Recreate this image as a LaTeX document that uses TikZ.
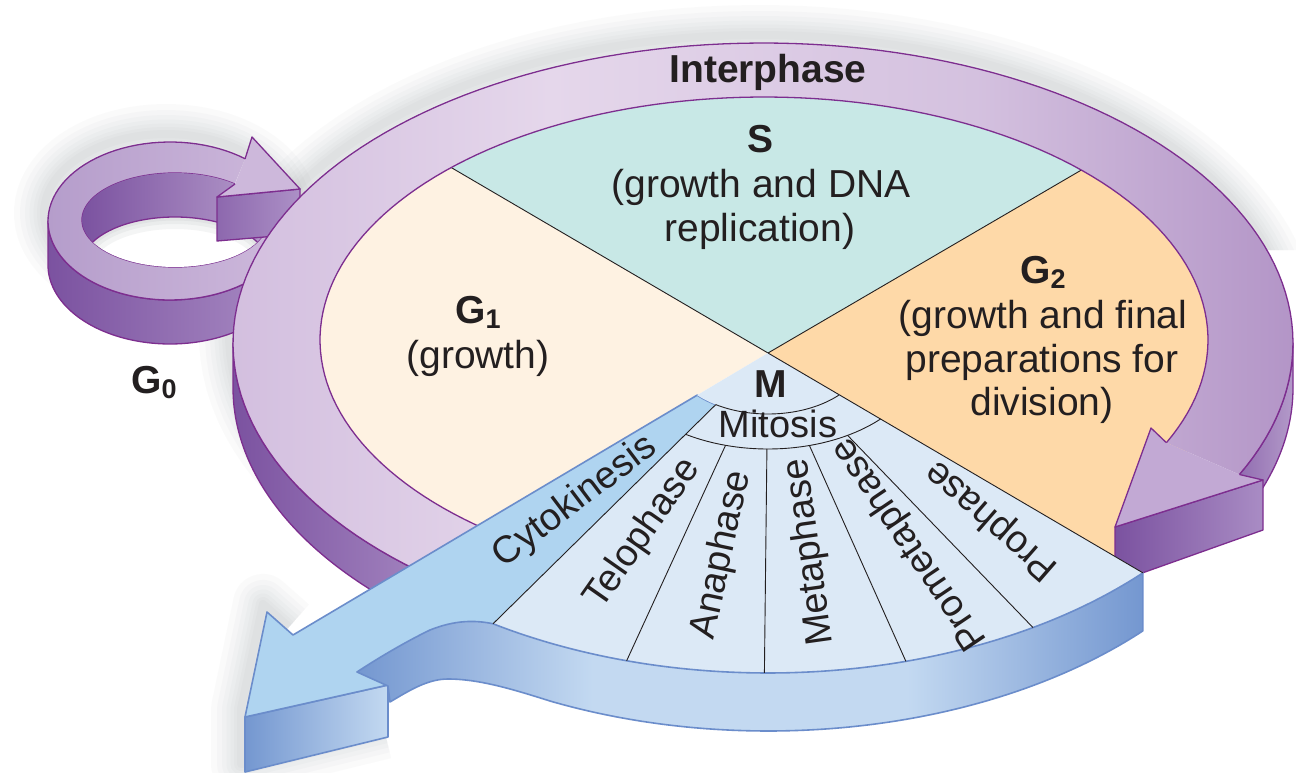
\documentclass[tikz,border=0pt]{standalone}
\usepackage{fontspec}
\setmainfont{Liberation Sans}
\definecolor{ringA}{HTML}{D3BFDF}
\definecolor{ringB}{HTML}{E5D7EB}
\definecolor{ringC}{HTML}{D4C1DF}
\definecolor{ringD}{HTML}{B395C7}
\definecolor{pDark}{HTML}{7B52A0}
\definecolor{pWall}{HTML}{A98CC4}
\definecolor{pWallR1}{HTML}{8F6AAF}
\definecolor{pWallR2}{HTML}{B39AC9}
\definecolor{pEdge}{HTML}{7D2E8F}
\definecolor{aTop}{HTML}{C2A9D4}
\definecolor{gA}{HTML}{B59DCB}
\definecolor{gB}{HTML}{CDB8DB}
\definecolor{gWallR}{HTML}{B59BCB}
\definecolor{gSideL}{HTML}{8D68AE}
\definecolor{gSideR}{HTML}{AC90C6}
\definecolor{cGone}{HTML}{FEF2E2}
\definecolor{cS}{HTML}{C8E8E6}
\definecolor{cGtwo}{HTML}{FED9A8}
\definecolor{cM}{HTML}{DCE9F6}
\definecolor{cCyto}{HTML}{AFD4F0}
\definecolor{bEdge}{HTML}{6B8DCB}
\definecolor{bDark}{HTML}{7497D0}
\definecolor{bLight}{HTML}{C3D9F1}
\definecolor{txt}{HTML}{231F20}
\definecolor{shadowc}{HTML}{6E767C}
\pgfdeclarehorizontalshading{ringtop}{100bp}{color(0bp)=(ringA); color(25bp)=(ringA); color(40bp)=(ringB); color(60bp)=(ringC); color(75bp)=(ringD); color(100bp)=(ringD)}
\pgfdeclarehorizontalshading{bandshade}{100bp}{color(0bp)=(bDark); color(25bp)=(bDark); color(40bp)=(bLight); color(60bp)=(bLight); color(75bp)=(bDark); color(100bp)=(bDark)}
% ellipse arcs (pixel coordinates, y downwards)
\newcommand{\ccRO}[3]{#1 plot[domain=#2:#3,samples=140,variable=\t]({763+530*cos(\t)},{343+300*sin(\t)})}
\newcommand{\ccROs}[3]{#1 plot[domain=#2:#3,samples=60,variable=\t]({763+530*cos(\t)},{388+300*sin(\t)})}
\newcommand{\ccRI}[3]{#1 plot[domain=#2:#3,samples=140,variable=\t]({764+444*cos(\t)},{340+243*sin(\t)})}
\newcommand{\ccGO}[3]{#1 plot[domain=#2:#3,samples=80,variable=\t]({170+122*cos(\t)},{221+79*sin(\t)})}
\newcommand{\ccGOs}[3]{#1 plot[domain=#2:#3,samples=80,variable=\t]({170+122*cos(\t)},{265+79*sin(\t)})}
\newcommand{\ccGI}[3]{#1 plot[domain=#2:#3,samples=80,variable=\t]({175+93*cos(\t)},{220+47*sin(\t)})}
\newcommand{\ccGIs}[3]{#1 plot[domain=#2:#3,samples=80,variable=\t]({175+93*cos(\t)},{264+47*sin(\t)})}
\newcommand{\ccEM}[3]{#1 plot[domain=#2:#3,samples=100,variable=\t]({768+516*cos(\t)},{353+320*sin(\t)})}
\newcommand{\ccEMs}[3]{#1 plot[domain=#2:#3,samples=100,variable=\t]({768+516*cos(\t)},{411+320*sin(\t)})}
\newcommand{\ccEA}[3]{#1 plot[domain=#2:#3,samples=40,variable=\t]({768+98*cos(\t)},{353+61*sin(\t)})}
\newcommand{\ccEB}[3]{#1 plot[domain=#2:#3,samples=40,variable=\t]({768+155*cos(\t)},{353+96*sin(\t)})}
\begin{document}
\begin{tikzpicture}[x=1pt,y=-1pt,
  pedge/.style={draw=pEdge, line width=1.3pt, line join=round},
  bedge/.style={draw=bEdge, line width=1.6pt, line join=round},
  divline/.style={draw=txt, line width=0.9pt},
  lbl/.style={font=\fontsize{39}{44}\selectfont, text=txt, inner sep=0pt},
  lblb/.style={font=\fontsize{39}{44}\selectfont\bfseries, text=txt, inner sep=0pt},
  plbl/.style={font=\fontsize{38}{44}\selectfont, text=txt, inner sep=0pt}]
\useasboundingbox (0,0) rectangle (1296,773);
\fill[white] (0,0) rectangle (1296,773);

% ---------- soft shadow ----------
\begin{scope}
\clip (0,0)--(1296,0)--(1296,250)--(1000,250)--(430,560)--(430,773)--(0,773)--cycle;
\begin{scope}[shift={(-4,-8)}]
\foreach \w in {60,48,38,29,21,14,8}{
  \draw[shadowc, opacity=0.03, line width=\w pt] \ccRO{}{0}{360} -- cycle;
  \draw[shadowc, opacity=0.03, line width=\w pt] \ccGO{}{0}{360} -- cycle;
  \draw[shadowc, opacity=0.03, line width=\w pt, line join=round] (293,635)--(267,612)--(245,717)--(245,772)--(388,737);
}
\end{scope}
\end{scope}

% ---------- G0 loop ----------
\shade[left color=pDark, right color=pWall] \ccGO{}{180}{0} \ccGOs{--}{0}{180} -- cycle;
\draw[pedge] \ccGO{}{180}{0} \ccGOs{--}{0}{180} -- cycle;
\shade[left color=gA, right color=gB] \ccGO{}{-52}{-335} \ccGI{--}{-345}{-50} -- cycle;
\draw[pedge] \ccGO{}{-52}{-335};
\draw[pedge] \ccGI{}{-345}{-50};
\begin{scope}
  \clip \ccGI{}{0}{360} -- cycle;
  \shade[left color=pDark, right color=gWallR] \ccGI{}{0}{360} -- cycle;
  \fill[white] \ccGIs{}{0}{360} -- cycle;
  \clip \ccGIs{}{0}{360} -- cycle;
  \foreach \w in {24,14,7}{\draw[shadowc, opacity=0.07, line width=\w pt] \ccGIs{}{180}{360};}
\end{scope}
\draw[pedge] \ccGIs{}{208}{332};
\shade[left color=gSideL, right color=gSideR] (217,197) -- (300,189) -- (300,234) -- (217,241) -- cycle;
\draw[pedge] (217,197) -- (300,189) -- (300,234) -- (217,241) -- cycle;
\fill[gB] (245,159) -- (252,137) -- (300,189) -- (217,197) -- (235,184) -- cycle;
\draw[pedge] (245,159) -- (252,137) -- (300,189) -- (217,197) -- (235,184);

% ---------- pie: G1, S, G2 ----------
\begin{scope}
  \clip \ccRI{}{0}{360} -- cycle;
  \fill[cGone] (768,353) -- (136,-17) -- (-100,-100) -- (-100,900) -- (22,795) -- cycle;
  \fill[cS] (768,353) -- (136,-17) -- (768,-300) -- (1388,-9) -- cycle;
  \fill[cGtwo] (768,353) -- (1388,-9) -- (1600,353) -- (1518,793) -- cycle;
  \draw[divline] (768,353) -- (136,-17);
  \draw[divline] (768,353) -- (1388,-9);
\end{scope}
\fill[cGtwo] (1050,500) -- (1180,425) -- (1192,470) -- (1115,527) -- (1115,562) -- (1060,530) -- cycle;

% ---------- interphase ring ----------
\shade[left color=pDark, right color=pWall] \ccRO{}{180}{125} \ccROs{--}{125}{180} -- cycle;
\draw[pedge] \ccRO{}{180}{125} \ccROs{--}{125}{180} -- cycle;
\shade[left color=pWallR1, right color=pWallR2] \ccRO{}{0}{27} \ccROs{--}{27}{0} -- cycle;
\draw[pedge] \ccRO{}{0}{27} \ccROs{--}{27}{0} -- cycle;
\shade[shading=ringtop] \ccRO{}{125}{386} \ccRI{--}{385}{125} -- cycle;
\draw[pedge] \ccRO{}{125}{386};
\draw[pedge] \ccRI{}{125}{385};
% ring arrowhead
\shade[left color=pDark, right color=pWall] (1115,527) -- (1263,480) -- (1263,530) -- (1145,572) -- (1115,582) -- cycle;
\draw[pedge] (1115,527) -- (1263,480) -- (1263,530) -- (1145,572) -- (1115,582) -- cycle;
\fill[aTop] (1239.4,474.5) -- (1263,480) -- (1115,527) -- (1151,428) -- (1166.4,442.7) -- cycle;
\draw[pedge] (1239.4,474.5) -- (1263,480) -- (1115,527) -- (1151,428) -- (1166.4,442.7);

% ---------- cytokinesis arrow ----------
\shade[left color=bDark, right color=bLight] (245,717) -- (388,685) -- (388,737) -- (245,772) -- cycle;
\draw[bedge] (245,717) -- (388,685) -- (388,737) -- (245,772) -- cycle;
\fill[cCyto] \ccEA{}{122.2}{136.3} -- (293,635) -- (267,612) -- (245,717) -- (388,685) -- (430,672) -- (493,624) -- cycle;
\draw[bedge] \ccEA{}{122.2}{136.3} -- (293,635) -- (267,612) -- (245,717) -- (388,685) -- (430,672);

% ---------- M wedge ----------
\fill[cM] (768,353) \ccEA{--}{136.3}{122.2} \ccEM{--}{122.2}{43.4} -- cycle;
\shade[shading=bandshade] \ccEM{}{43.4}{122.2} .. controls (475,620) and (455,620) .. (430,630) .. controls (405,642) and (375,660) .. (357,672) -- (388,686) -- (390,702) .. controls (410,690) and (428,679) .. (448,679) .. controls (480,679) and (515,690) .. (550,701) \ccEMs{--}{115}{43.4} -- cycle;
\draw[bedge] \ccEM{}{43.4}{122.2} .. controls (475,620) and (455,620) .. (430,630) .. controls (405,642) and (375,660) .. (357,672) -- (388,686) -- (390,702) .. controls (410,690) and (428,679) .. (448,679) .. controls (480,679) and (515,690) .. (550,701) \ccEMs{--}{115}{43.4} -- cycle;
\draw[divline] \ccEA{}{43.4}{122.2};
\draw[divline] \ccEB{}{43.4}{122.2};
\draw[divline] (768,353) -- ({768+516*cos(43.4)},{353+320*sin(43.4)});
\draw[divline] ({768+98*cos(122.2)},{353+61*sin(122.2)}) -- ({768+516*cos(122.2)},{353+320*sin(122.2)});
\foreach \a in {59.1,74.5,90.4,105.9}
  \draw[divline] ({768+155*cos(\a)},{353+96*sin(\a)}) -- ({768+516*cos(\a)},{353+320*sin(\a)});

% ---------- labels ----------
\node[lblb, anchor=base] (interphase) at (768,83) {Interphase};
\node[lblb, anchor=base] (sS) at (760,153) {S};
\node[lbl, anchor=base] (sA) at (761,197) {(growth and DNA};
\node[lbl, anchor=base] (sB) at (760,241) {replication)};
\node[lblb, anchor=base] (gone) at (478,323) {G\raisebox{-5pt}{\fontsize{27}{27}\selectfont 1}};
\node[lbl, anchor=base] (goneA) at (478,368) {(growth)};
\node[lblb, anchor=base] (gtwo) at (1043,283) {G\raisebox{-5pt}{\fontsize{27}{27}\selectfont 2}};
\node[lbl, anchor=base] (gtwoA) at (1043,328) {(growth and final};
\node[lbl, anchor=base] (gtwoB) at (1042,372) {preparations for};
\node[lbl, anchor=base] (gtwoC) at (1042,415) {division)};
\node[lblb, anchor=base] (gzero) at (154,393) {G\raisebox{-5pt}{\fontsize{27}{27}\selectfont 0}};
\node[lblb, anchor=base] (mM) at (771,397) {M};
\node[plbl, anchor=base] (mitosis) at (778,437) {Mitosis};
\node[plbl, rotate=37] (cyto) at (575,502) {Cytokinesis};
\node[plbl, rotate=55] (telo) at (643,534) {Telophase};
\node[plbl, rotate=78] (ana) at (722,555) {Anaphase};
\node[plbl, rotate=98] (meta) at (810,552) {Metaphase};
\node[plbl, rotate=124] (prometa) at (910,544) {Prometaphase};
\node[plbl, rotate=139] (pro) at (992,520) {Prophase};
\end{tikzpicture}
\end{document}
